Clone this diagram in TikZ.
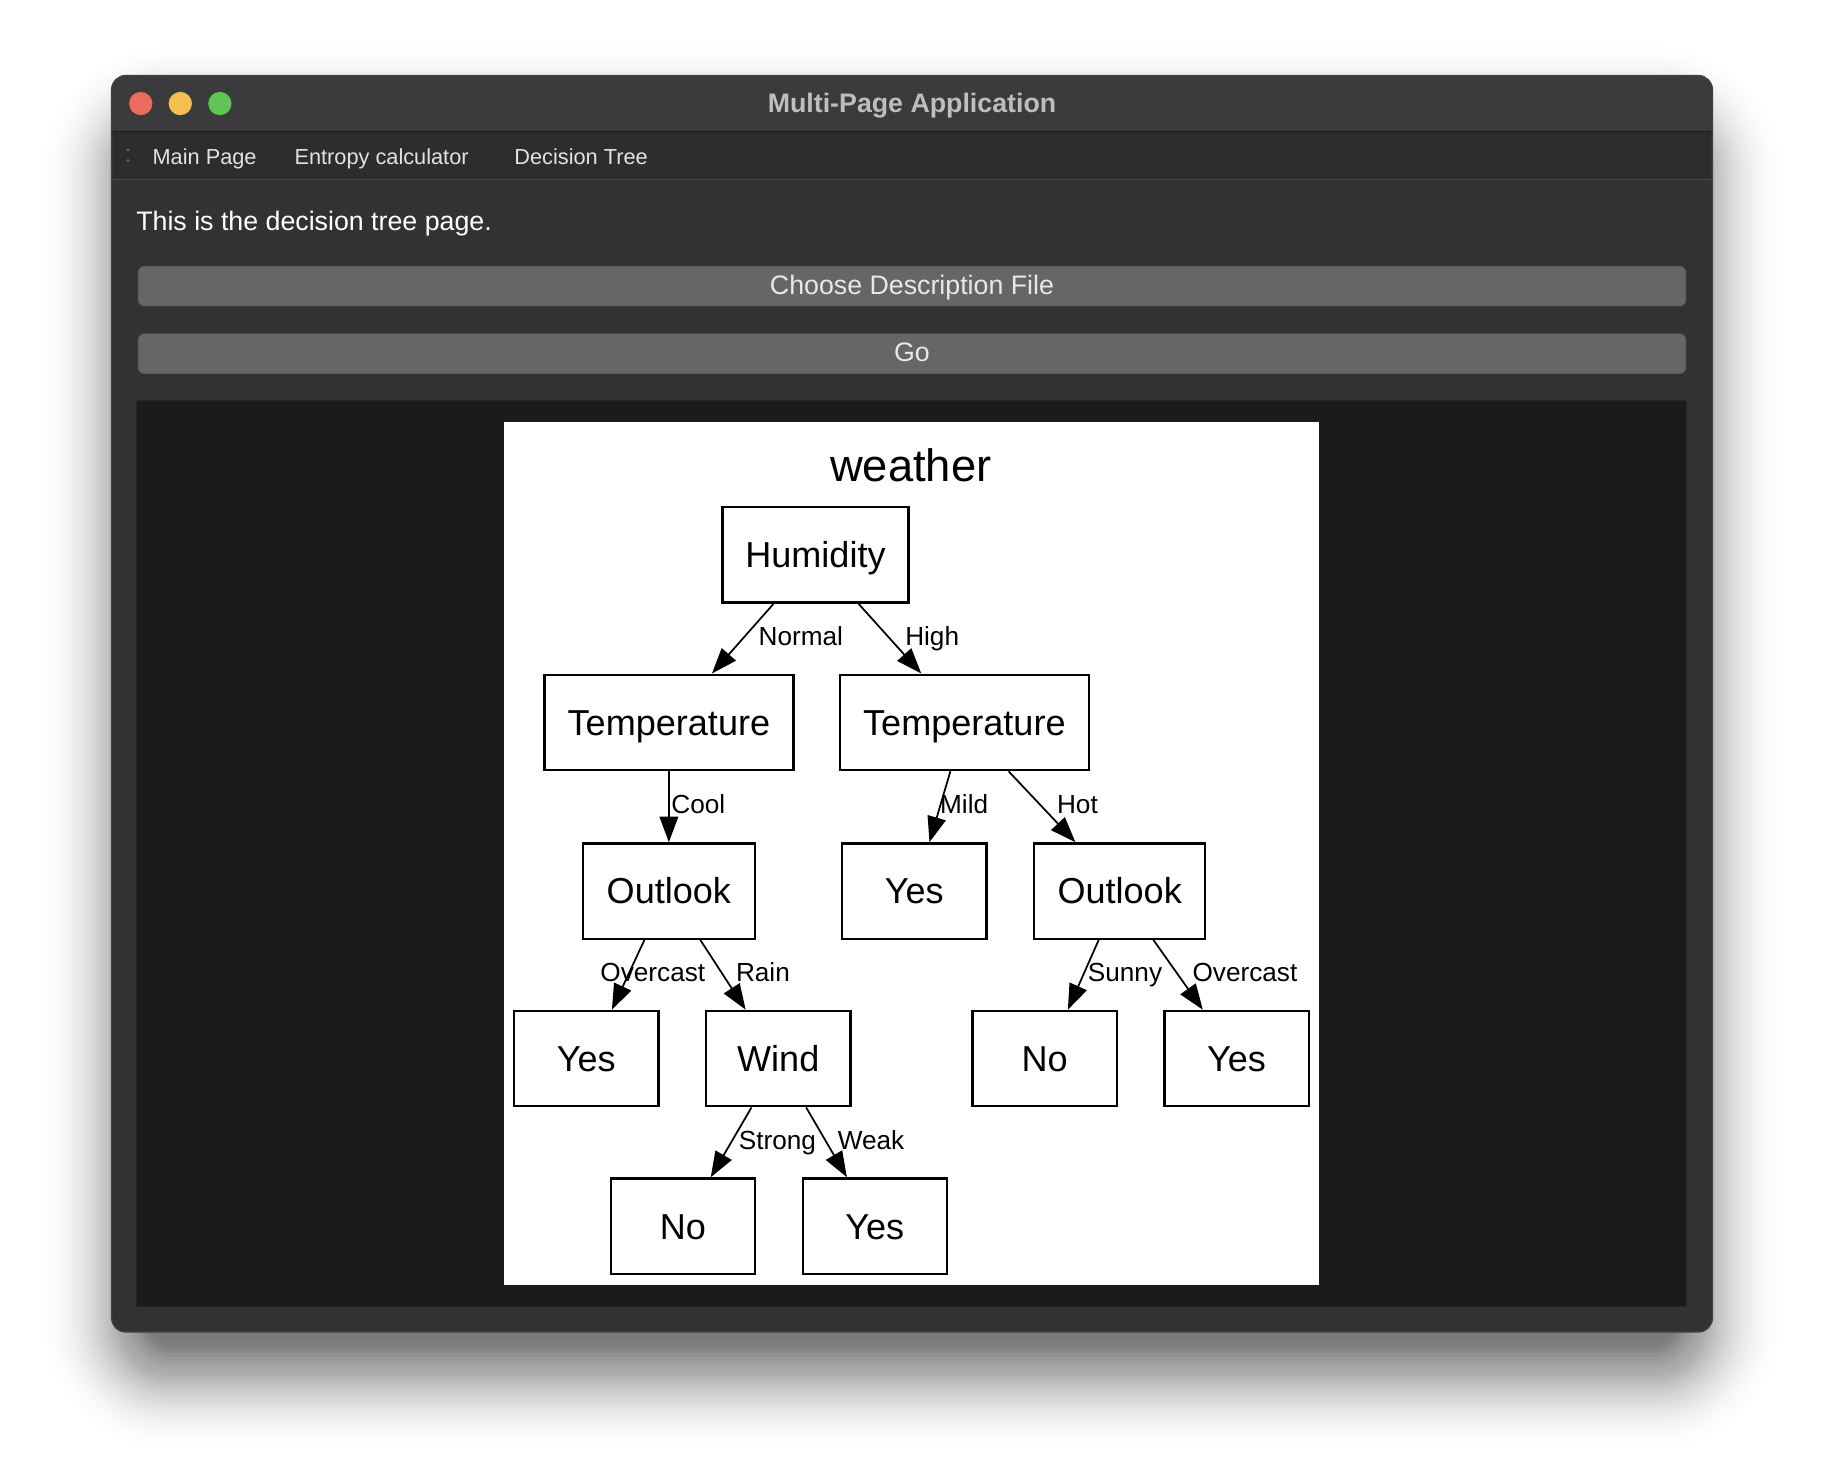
\documentclass[tikz,border=0pt]{standalone}
\usepackage{fontspec}
\setmainfont{Liberation Sans}
\usetikzlibrary{calc,arrows.meta}
\definecolor{titlebar}{HTML}{3B3B3D}
\definecolor{menubar}{HTML}{2D2D2D}
\definecolor{contentbg}{HTML}{323232}
\definecolor{sepdark}{HTML}{1C1C1C}
\definecolor{seplight}{HTML}{454545}
\definecolor{titletext}{HTML}{BEBEBE}
\definecolor{menutext}{HTML}{E2E2E2}
\definecolor{btnfill}{HTML}{666666}
\definecolor{btnedge}{HTML}{5A5A5A}
\definecolor{btntext}{HTML}{E8E8E8}
\definecolor{imgbg}{HTML}{1B1B1B}
\definecolor{tlred}{HTML}{ED6A5E}
\definecolor{tlyellow}{HTML}{F5BF4F}
\definecolor{tlgreen}{HTML}{61C554}
\tikzset{
  light/.style={circle, minimum size=20pt, inner sep=0pt},
  menuitem/.style={anchor=base west, inner sep=0pt, text=menutext, font=\fontsize{18.7}{22}\selectfont},
  btn/.style={rounded corners=5pt, fill=btnfill, draw=btnedge, line width=0.8pt},
  btnlabel/.style={anchor=base, inner sep=0pt, text=btntext, font=\fontsize{23}{27}\selectfont},
  tbox/.style={draw=black, line width=2pt, fill=white, minimum height=82pt, inner sep=0pt, text height=22.2pt, text depth=0pt, font=\fontsize{31}{36}\selectfont},
  elabel/.style={anchor=base west, inner sep=0pt, font=\fontsize{22.5}{26}\selectfont},
  edge/.style={line width=1.5pt, -{Triangle[length=22pt,width=16pt]}},
}
\begin{document}
\begin{tikzpicture}[x=1pt,y=-1pt]
\useasboundingbox (0,0) rectangle (1568,1272.3);
\fill[white] (0,0) rectangle (1568,1272.3);
% shadow
\foreach \i in {1,...,30} {
  \pgfmathsetmacro{\e}{3.3*\i}
  \pgfmathsetmacro{\a}{0.042*(1-(\i-1)/30)}
  \fill[black, opacity=\a, rounded corners={(14+\e)*1pt}] ({133-\e},{135-\e}) rectangle ({1435+\e},{1150+\e});
}
% window
\begin{scope}
\clip[rounded corners=12pt] (96,65) rectangle (1472,1145);
\fill[contentbg] (96,65) rectangle (1472,1145);
\fill[titlebar] (96,65) rectangle (1472,113);
\fill[menubar] (96,113) rectangle (1472,154);
\draw[sepdark, line width=1.5pt] (96,113) -- (1472,113);
\draw[seplight, line width=1pt] (96,154) -- (1472,154);
\end{scope}
\draw[black!75, line width=1.2pt, rounded corners=12pt] (96,65) rectangle (1472,1145);
% traffic lights
\node[light, fill=tlred] (red) at (121,89) {};
\node[light, fill=tlyellow] (yellow) at (155,89) {};
\node[light, fill=tlgreen] (green) at (189,89) {};
\node[anchor=base, inner sep=0pt, text=titletext, font=\bfseries\fontsize{23}{27}\selectfont] (title) at (784,96.5) {Multi-Page Application};
% menu
\fill[black!60] (110,129) circle (1.4pt);
\fill[black!60] (110,138) circle (1.4pt);
\node[menuitem] (m1) at (131,141) {Main Page};
\node[menuitem] (m2) at (253,141) {Entropy calculator};
\node[menuitem] (m3) at (442,141) {Decision Tree};
% content
\node[anchor=base west, inner sep=0pt, text=white, font=\fontsize{23}{27}\selectfont] (info) at (117,198) {This is the decision tree page.};
\draw[btn] (119,229) rectangle (1449,263);
\node[btnlabel] (choose) at (784,253) {Choose Description File};
\draw[btn] (119,287) rectangle (1449,321);
\node[btnlabel] (go) at (784,311) {Go};
% image area
\fill[imgbg] (117,344) rectangle (1450,1123);
\draw[black!85!white, line width=0.8pt] (117,344) rectangle (1450,1123);
\fill[white] (433,363) rectangle (1134,1105);
% tree
\node[inner sep=0pt, anchor=base, font=\fontsize{39}{44}\selectfont] (weather) at (783,414) {weather};
\node[tbox, minimum width=160pt] (hum) at (701,477) {Humidity};
\node[tbox, minimum width=214pt] (tl) at (575,621) {Temperature};
\node[tbox, minimum width=214pt] (tr) at (829,621) {Temperature};
\node[tbox, minimum width=148pt] (ol) at (575,766) {Outlook};
\node[tbox, minimum width=124pt] (ym) at (786,766) {Yes};
\node[tbox, minimum width=147pt] (or) at (962.5,766) {Outlook};
\node[tbox, minimum width=124pt] (yl) at (504,910) {Yes};
\node[tbox, minimum width=124pt] (wind) at (669,910) {Wind};
\node[tbox, minimum width=124pt] (nr) at (898,910) {No};
\node[tbox, minimum width=124pt] (yr) at (1063,910) {Yes};
\node[tbox, minimum width=124pt] (nb) at (587,1054) {No};
\node[tbox, minimum width=124pt] (yb) at (752,1054) {Yes};
% edges
\draw[edge] ($(hum.south)+(-36,0)$) -- ($(tl.north)+(37,0)$);
\draw[edge] ($(hum.south)+(37,0)$) -- ($(tr.north)+(-37,0)$);
\draw[edge] (tl.south) -- (ol.north);
\draw[edge] ($(tr.south)+(-12,0)$) -- ($(ym.north)+(13,0)$);
\draw[edge] ($(tr.south)+(38,0)$) -- ($(or.north)+(-38,0)$);
\draw[edge] ($(ol.south)+(-21,0)$) -- ($(yl.north)+(22,0)$);
\draw[edge] ($(ol.south)+(27,0)$) -- ($(wind.north)+(-28,0)$);
\draw[edge] ($(or.south)+(-18,0)$) -- ($(nr.north)+(20,0)$);
\draw[edge] ($(or.south)+(29,0)$) -- ($(yr.north)+(-29,0)$);
\draw[edge] ($(wind.south)+(-23,0)$) -- ($(nb.north)+(24,0)$);
\draw[edge] ($(wind.south)+(24,0)$) -- ($(yb.north)+(-24,0)$);
% edge labels
\node[elabel] (lnormal) at (652,554.5) {Normal};
\node[elabel] (lhigh) at (778,554.5) {High};
\node[elabel] (lcool) at (577,699) {Cool};
\node[elabel] (lmild) at (808,699) {Mild};
\node[elabel] (lhot) at (908.5,699) {Hot};
\node[elabel] (lover1) at (516,843.5) {Overcast};
\node[elabel] (lrain) at (632.5,843.5) {Rain};
\node[elabel] (lsunny) at (935,843.5) {Sunny};
\node[elabel] (lover2) at (1025,843.5) {Overcast};
\node[elabel] (lstrong) at (635,988) {Strong};
\node[elabel] (lweak) at (720,988) {Weak};
\end{tikzpicture}
\end{document}
